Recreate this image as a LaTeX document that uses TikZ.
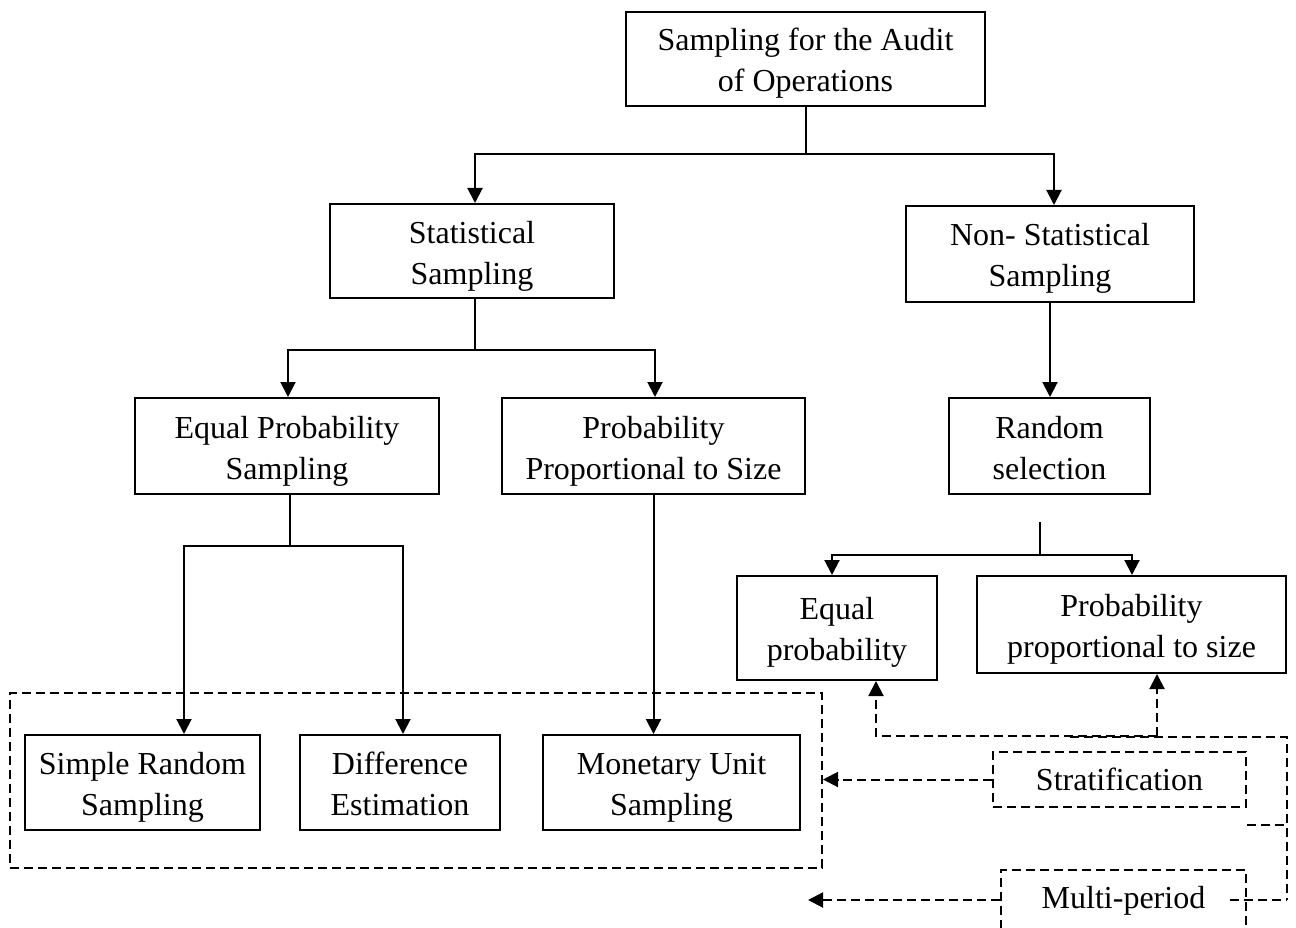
\documentclass[tikz,border=0pt]{standalone}
\usepackage{fontspec}
\setmainfont{Liberation Serif}
\usetikzlibrary{arrows.meta}
\begin{document}
\begin{tikzpicture}[x=1pt,y=-1pt,
  font=\fontsize{32}{41}\selectfont,
  box/.style={draw, line width=2pt, align=center, inner sep=0pt, text height=73pt, text depth=7pt},
  dbox/.style={draw, line width=2pt, dash pattern=on 9pt off 5pt, align=center, inner sep=0pt},
  arr/.style={line width=2pt, -{Triangle[length=15pt,width=15pt]}},
  dline/.style={line width=2pt, dash pattern=on 9pt off 5pt},
  darr/.style={line width=2pt, dash pattern=on 9pt off 5pt, -{Triangle[length=15pt,width=15pt]}}]
\clip (0,0) rectangle (1296,928);
\fill[white] (0,0) rectangle (1296,928);
% boxes
\node[box, minimum width=359pt, minimum height=94pt] (top) at (805.5,59) {Sampling for the Audit\\of Operations};
\node[box, minimum width=284pt, minimum height=94pt] (stat) at (472,251) {Statistical\\Sampling};
\node[box, minimum width=288pt, minimum height=96pt] (nonstat) at (1050,254) {Non- Statistical\\Sampling};
\node[box, minimum width=304pt, minimum height=96pt] (eps) at (287,446) {Equal Probability\\Sampling};
\node[box, minimum width=303pt, minimum height=96pt] (pps) at (653.5,446) {Probability\\Proportional to Size};
\node[box, minimum width=201pt, minimum height=96pt] (rand) at (1049.5,446) {Random\\selection};
\node[box, minimum width=200pt, minimum height=104pt, text height=71pt] (eqp) at (837,628) {Equal\\probability};
\node[box, minimum width=309pt, minimum height=97pt] (ppsz) at (1131.5,624.5) {Probability\\proportional to size};
\node[dbox, minimum width=812pt, minimum height=175pt] (group) at (416,780.5) {};
\node[box, minimum width=235pt, minimum height=95pt] (srs) at (142.5,782.5) {Simple Random\\Sampling};
\node[box, minimum width=200pt, minimum height=95pt] (diff) at (400,782.5) {Difference\\Estimation};
\node[box, minimum width=257pt, minimum height=95pt] (mus) at (671.5,782.5) {Monetary Unit\\Sampling};
\node[dbox, minimum width=253pt, minimum height=55pt] (strat) at (1119.5,779.5) {Stratification};
\node[dbox, minimum width=245pt, minimum height=62pt] (multi) at (1123.5,901) {Multi-period};
% solid connectors
\draw[arr] (top.south) -- ++(0,47) -| ([xshift=3pt]stat.north);
\draw[arr] (top.south) -- ++(0,47) -| ([xshift=4pt]nonstat.north);
\draw[arr] ([xshift=3pt]stat.south) -- ++(0,51) -| ([xshift=1pt]eps.north);
\draw[arr] ([xshift=3pt]stat.south) -- ++(0,51) -| ([xshift=1.5pt]pps.north);
\draw[arr] (nonstat.south) -- (nonstat.south |- rand.north);
\coordinate (rs) at (1040,522);
\draw[arr] (rs) -- ++(0,33) -| ([xshift=-5pt]eqp.north);
\draw[arr] (rs) -- ++(0,33) -| ([xshift=0.5pt]ppsz.north);
\draw[arr] ([xshift=3pt]eps.south) -- ++(0,51) -| ([xshift=41.5pt]srs.north);
\draw[arr] ([xshift=3pt]eps.south) -- ++(0,51) -| ([xshift=3pt]diff.north);
\draw[arr] (pps.south) -- (pps.south |- mus.north);
% dashed connectors
\draw[darr] (strat.west) -- (strat.west -| group.east);
\coordinate (mpEnd) at (808,900);
\draw[darr] (multi.west |- mpEnd) -- (mpEnd);
\coordinate (fbL) at (876,736);
\coordinate (fbR) at (1157,736);
\draw[darr] (fbR) -- (fbL) -- (fbL |- eqp.south);
\draw[darr] (fbR) -- (fbR |- ppsz.south);
\coordinate (c1) at (1070,737);
\coordinate (c2) at (1287,737);
\coordinate (c3) at (1287,900);
\draw[dline] (c1) -- (c2) -- (c3);
\coordinate (b1) at (1247,825);
\draw[dline] (b1) -- (b1 -| c2);
\coordinate (b2) at (1230,900);
\draw[dline] (b2) -- (c3);
\end{tikzpicture}
\end{document}
